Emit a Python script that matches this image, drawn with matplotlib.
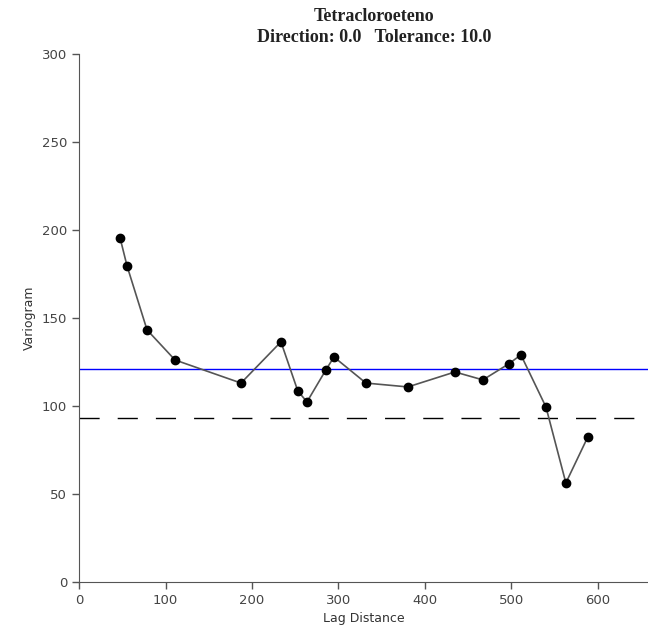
import matplotlib.pyplot as plt

lag = [47.4, 55.5, 78.6, 111, 187.3, 233.5, 253, 263.6, 285.5, 294.8,
       331.8, 380.3, 434.7, 467, 497, 511, 540, 563, 588.4]
gamma = [195.5, 179.5, 143.2, 126.1, 113, 136.4, 108.5, 102.3, 120.5, 127.8,
         113, 110.8, 119.3, 114.8, 123.9, 129, 99.4, 56.3, 82.4]
sill = 121
variance = 93.2
xticks = [0, 100, 200, 300, 400, 500, 600]
yticks = [0, 50, 100, 150, 200, 250, 300]

fig = plt.figure(figsize=(6.48, 6.32), dpi=100)
ax = fig.add_axes([0.122, 0.079, 0.878, 0.836])

ax.axhline(sill, color='#0000ff', lw=1.0)
ax.axhline(variance, color='black', lw=1.0, linestyle=(0, (14.5, 13)))
ax.plot(lag, gamma, color='#555555', lw=1.2, marker='o', ms=6,
        mfc='black', mec='black')

ax.set_xlim(0, 658)
ax.set_ylim(0, 300)
ax.set_xticks(xticks)
ax.set_yticks(yticks)
ax.spines['top'].set_visible(False)
ax.spines['right'].set_visible(False)
for s in ['left', 'bottom']:
    ax.spines[s].set_color('#555555')
ax.tick_params(colors='#555555', labelsize=9.5, length=5, width=1, labelcolor='#444444')

ax.set_xlabel('Lag Distance', fontsize=9, color='#333333')
ax.set_ylabel('Variogram', fontsize=9, color='#333333')
fig.text(0.577, 0.927, 'Tetracloroeteno\nDirection: 0.0   Tolerance: 10.0',
         ha='center', va='bottom', fontsize=13, fontweight='bold',
         family='Liberation Serif', color='#222222', linespacing=1.35)

fig.savefig('out.png', dpi=100)
